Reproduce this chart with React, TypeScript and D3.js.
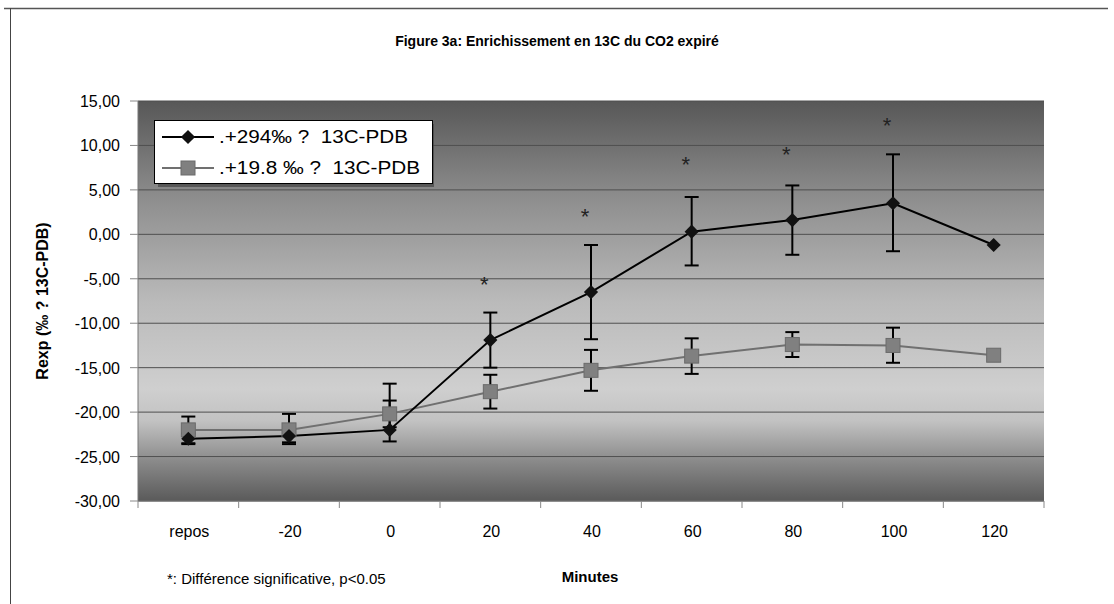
import React from 'react';
import * as d3 from 'd3';

// canvas
const width = 1114;
const height = 604;

// plot area
const plotLeft = 138;
const plotRight = 1044;
const plotTop = 101;
const plotBottom = 501;

// data
const categories = ['repos', '-20', '0', '20', '40', '60', '80', '100', '120'];
const yTicks = [15, 10, 5, 0, -5, -10, -15, -20, -25, -30];

const highValues = [-23.0, -22.7, -22.0, -11.9, -6.5, 0.3, 1.6, 3.5, -1.2];
const highErrUp = [0.6, 0.6, 5.2, 3.1, 5.3, 3.9, 3.9, 5.5, null];
const highErrDown = [0.6, 0.9, 1.3, 3.1, 5.3, 3.8, 3.9, 5.4, null];

const lowValues = [-22.0, -22.0, -20.2, -17.7, -15.3, -13.7, -12.4, -12.5, -13.6];
const lowErrUp = [1.5, 1.8, 1.5, 1.9, 2.3, 2.0, 1.4, 2.0, null];
const lowErrDown = [1.5, 1.4, 1.5, 1.9, 2.3, 2.0, 1.4, 1.95, null];

// significance stars
const starCategories = ['20', '40', '60', '80', '100'];
const starValues = [-5.4, 2.3, 8.1, 9.3, 12.5];

const legendLabels = ['.+294\u2030 ?\u00a0\u00a013C-PDB', '.+19.8 \u2030 ?\u00a0\u00a013C-PDB'];

// styles
const font = 'Liberation Sans, Arial, sans-serif';
const gridColor = '#4f4f4f';
const lowColor = '#707070';

const x = d3.scaleBand<string>().domain(categories).range([plotLeft, plotRight]).padding(0);
const y = d3.scaleLinear().domain([-30, 15]).range([plotBottom, plotTop]);
const cx = (c: string) => (x(c) as number) + x.bandwidth() / 2;
const fmt = (v: number) => d3.format('.2f')(v).replace('.', ',').replace('\u2212', '-');

const lineGen = d3
  .line<number>()
  .x((_, i) => cx(categories[i]))
  .y((d) => y(d));

// square turned 45deg, like the Excel diamond marker
const diamond = d3.symbol(d3.symbolSquare, 100)();

const ErrorBars = ({ values, up, down }: { values: number[]; up: (number | null)[]; down: (number | null)[] }) => (
  <g stroke="#000" strokeWidth={2}>
    {values.map((v, i) => {
      if (up[i] == null) return null;
      const xc = cx(categories[i]);
      const top = y(v + (up[i] as number));
      const bot = y(v - (down[i] as number));
      return (
        <g key={i}>
          <line x1={xc} x2={xc} y1={top} y2={bot} />
          <line x1={xc - 7} x2={xc + 7} y1={top} y2={top} />
          <line x1={xc - 7} x2={xc + 7} y1={bot} y2={bot} />
        </g>
      );
    })}
  </g>
);

const App = () => (
  <svg width={width} height={height} style={{ position: 'absolute', left: 0, top: 0 }}>
    <defs>
      <linearGradient id="bg" x1="0" y1="0" x2="0" y2="1">
        <stop offset="0%" stopColor="#575757" />
        <stop offset="25%" stopColor="#8f8f8f" />
        <stop offset="50%" stopColor="#bababa" />
        <stop offset="72%" stopColor="#cfcfcf" />
        <stop offset="80%" stopColor="#c2c2c2" />
        <stop offset="90%" stopColor="#8a8a8a" />
        <stop offset="100%" stopColor="#5a5a5a" />
      </linearGradient>
    </defs>
    <rect width={width} height={height} fill="#fff" />

    {/* outer frame */}
    <line x1={4} x2={1108} y1={8.5} y2={8.5} stroke="#555" strokeWidth={1.5} />
    <line x1={10.5} x2={10.5} y1={8} y2={height} stroke="#444" strokeWidth={1} />

    {/* title */}
    <text x={557} y={46} textAnchor="middle" fontFamily={font} fontWeight="bold" fontSize={14}>
      Figure 3a: Enrichissement en 13C du CO2 expiré
    </text>

    {/* plot background */}
    <rect x={plotLeft} y={plotTop} width={plotRight - plotLeft} height={plotBottom - plotTop} fill="url(#bg)" />

    {/* gridlines */}
    {yTicks.map((t) => (
      <line key={t} x1={plotLeft} x2={plotRight} y1={y(t)} y2={y(t)} stroke={gridColor} strokeWidth={1} />
    ))}

    {/* y axis */}
    <line x1={plotLeft} x2={plotLeft} y1={plotTop} y2={plotBottom} stroke="#777" />
    {yTicks.map((t) => (
      <g key={t}>
        <line x1={plotLeft - 8} x2={plotLeft} y1={y(t)} y2={y(t)} stroke="#888" />
        <text x={plotLeft - 18} y={y(t) + 6} textAnchor="end" fontFamily={font} fontSize={16}>
          {fmt(t)}
        </text>
      </g>
    ))}
    <text
      transform={`translate(48,${(plotTop + plotBottom) / 2}) rotate(-90)`}
      textAnchor="middle"
      fontFamily={font}
      fontWeight="bold"
      fontSize={16}
    >
      Rexp (‰ ? 13C-PDB)
    </text>

    {/* x axis */}
    <line x1={plotLeft} x2={plotRight} y1={plotBottom} y2={plotBottom} stroke="#777" />
    {categories.map((c) => (
      <line key={'t' + c} x1={x(c) as number} x2={x(c) as number} y1={plotBottom} y2={plotBottom + 7} stroke="#888" />
    ))}
    <line x1={plotRight} x2={plotRight} y1={plotBottom} y2={plotBottom + 7} stroke="#888" />
    {categories.map((c) => (
      <text key={c} x={cx(c) + 1} y={537} textAnchor="middle" fontFamily={font} fontSize={16}>
        {c}
      </text>
    ))}
    <text x={590} y={582} textAnchor="middle" fontFamily={font} fontWeight="bold" fontSize={15}>
      Minutes
    </text>
    <text x={167} y={584} fontFamily={font} fontSize={15}>
      *: Différence significative, p&lt;0.05
    </text>

    {/* series */}
    <path d={lineGen(lowValues) as string} fill="none" stroke={lowColor} strokeWidth={2} />
    <path d={lineGen(highValues) as string} fill="none" stroke="#000" strokeWidth={2} />
    <ErrorBars values={lowValues} up={lowErrUp} down={lowErrDown} />
    <ErrorBars values={highValues} up={highErrUp} down={highErrDown} />
    {lowValues.map((v, i) => (
      <rect
        key={'l' + i}
        x={cx(categories[i]) - 7}
        y={y(v) - 7}
        width={14}
        height={14}
        fill="#808080"
        stroke="#6a6a6a"
      />
    ))}
    {highValues.map((v, i) => (
      <path
        key={'h' + i}
        d={diamond as string}
        transform={`translate(${cx(categories[i])},${y(v)}) rotate(45)`}
        fill="#111"
      />
    ))}

    {/* stars */}
    {starCategories.map((c, i) => (
      <text key={'s' + c} x={cx(c) - 6} y={y(starValues[i]) + 10} textAnchor="middle" fontFamily={font} fontSize={22} fill="#222">
        *
      </text>
    ))}

    {/* legend */}
    <rect x={158} y={124} width={276} height={63} fill="#3a3a3a" opacity={0.6} />
    <rect x={154.5} y={120.5} width={278} height={63} fill="#fff" stroke="#000" strokeWidth={1} />
    <line x1={162} x2={214} y1={137} y2={137} stroke="#000" strokeWidth={2} />
    <path d={diamond as string} transform="translate(188,137) rotate(45)" fill="#111" />
    <text x={219} y={143} fontFamily={font} fontSize={18} textLength={189} lengthAdjust="spacingAndGlyphs">
      {legendLabels[0]}
    </text>
    <line x1={162} x2={214} y1={168} y2={168} stroke={lowColor} strokeWidth={2} />
    <rect x={181} y={161} width={14} height={14} fill="#808080" stroke="#6a6a6a" />
    <text x={219} y={174} fontFamily={font} fontSize={18} textLength={201} lengthAdjust="spacingAndGlyphs">
      {legendLabels[1]}
    </text>
  </svg>
);

export default App;
